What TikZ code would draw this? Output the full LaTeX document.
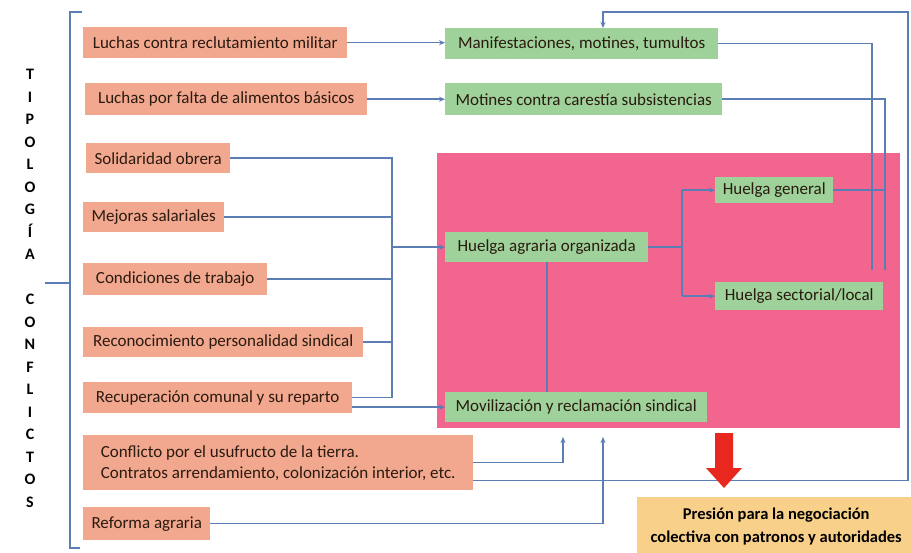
\documentclass[tikz,border=0pt]{standalone}
\usepackage{fontspec}
\setmainfont{Carlito}
\usetikzlibrary{arrows.meta,calc}
\definecolor{salmon}{HTML}{F2A88E}
\definecolor{greenb}{HTML}{9ED29A}
\definecolor{pinkb}{HTML}{F2658F}
\definecolor{orangeb}{HTML}{F9D08A}
\definecolor{lnc}{HTML}{5A7DB4}
\definecolor{redc}{HTML}{E8271F}
\definecolor{txt}{HTML}{2A1A10}
\tikzset{
  sbox/.style={fill=salmon, anchor=north west, inner sep=0pt, text=txt, font=\fontsize{17}{21}\selectfont},
  gbox/.style={fill=greenb, anchor=north west, inner sep=0pt, text=txt, font=\fontsize{17}{21}\selectfont},
  ln/.style={draw=lnc, line width=1.5pt},
  arr/.style={-{Stealth[length=6pt,width=5pt]}}
}
\begin{document}
\begin{tikzpicture}[x=1pt,y=-1pt]
\useasboundingbox (0,0) rectangle (911,552);
% pink area
\node[fill=pinkb, anchor=north west, inner sep=0pt, minimum width=463pt, minimum height=275pt] (pink) at (437,153) {};
% vertical label
\node[font=\fontsize{16}{22.5}\selectfont\bfseries, align=center, text=black] (tipo) at (30,288.5)
 {T\\I\\P\\O\\L\\O\\G\\Í\\A\\\mbox{}\\C\\O\\N\\F\\L\\I\\C\\T\\O\\S};
% bracket
\coordinate (bt) at (82,12);
\coordinate (bb) at (80,548);
\coordinate (bx) at (70,0);
\coordinate (bm) at (45,283);
\draw[ln] (bt) -- (bt -| bx) -- (bb -| bx) -- (bb);
\draw[ln] (bm) -- (bm -| bx);
% salmon boxes
\node[sbox, minimum width=264pt, minimum height=31pt] (s1) at (83,27) {Luchas contra reclutamiento militar};
\node[sbox, minimum width=282pt, minimum height=32pt] (s2) at (85,83) {Luchas por falta de alimentos básicos};
\node[sbox, minimum width=144pt, minimum height=30pt] (s3) at (86,143) {Solidaridad obrera};
\node[sbox, minimum width=141pt, minimum height=30pt] (s4) at (83,202) {Mejoras salariales};
\node[sbox, minimum width=184pt, minimum height=32pt] (s5) at (83,263) {Condiciones de trabajo};
\node[sbox, minimum width=280pt, minimum height=30pt] (s6) at (83,327) {Reconocimiento personalidad sindical};
\node[sbox, minimum width=269pt, minimum height=31pt] (s7) at (83,382) {Recuperación comunal y su reparto};
\node[sbox, minimum width=390pt, minimum height=55pt, align=left] (s8) at (83,435)
 {Conflicto por el usufructo de la tierra.\\Contratos arrendamiento, colonización interior, etc.};
\node[sbox, minimum width=127pt, minimum height=33pt] (s9) at (83,507) {Reforma agraria};
% green boxes
\node[gbox, minimum width=273pt, minimum height=31pt] (g1) at (445,28) {Manifestaciones, motines, tumultos};
\node[gbox, minimum width=277pt, minimum height=32pt] (g2) at (445,83) {Motines contra carestía subsistencias};
\node[gbox, minimum width=203pt, minimum height=30pt] (g3) at (445,232) {Huelga agraria organizada};
\node[gbox, minimum width=118pt, minimum height=26pt] (g4) at (715,177) {Huelga general};
\node[gbox, minimum width=168pt, minimum height=28pt] (g5) at (715,282) {Huelga sectorial/local};
\node[gbox, minimum width=262pt, minimum height=30pt] (g6) at (445,392) {Movilización y reclamación sindical};
% result box
\node[fill=orangeb, anchor=north west, inner sep=0pt, minimum width=278pt, minimum height=58pt, align=center,
      font=\fontsize{16.5}{23}\selectfont\bfseries, text=black] (res) at (637,497)
 {Presión para la negociación\\colectiva con patronos y autoridades};
% connectors
\draw[ln,arr] (s1.east) -- (s1.east -| g1.west);
\draw[ln,arr] (s2.east) -- (s2.east -| g2.west);
\coordinate (bus) at (392,245);
\draw[ln] (s3.east) -| (bus |- s7.east) -- (s7.east);
\draw[ln] (s4.east) -- (s4.east -| bus);
\draw[ln] (s5.east) -- (s5.east -| bus);
\draw[ln] (s6.east) -- (s6.east -| bus);
\draw[ln,arr] (bus |- g3.west) -- (g3.west);
\draw[ln,arr] (s7.east |- g6.west) -- (g6.west);
\coordinate (split) at (682,247);
\draw[ln] (g3.east) -- (g3.east -| split);
\draw[ln] (split |- g4.west) -- (split |- g5.west);
\draw[ln,arr] (split |- g4.west) -- (g4.west);
\draw[ln,arr] (split |- g5.west) -- (g5.west);
\coordinate (c547) at (547,0);
\draw[ln] (g3.south -| c547) -- (g6.north -| c547);
\coordinate (r1) at (872,0);
\coordinate (r2) at (885,0);
\coordinate (rend) at (0,270);
\draw[ln] (g1.east) -- (g1.east -| r1) -- (r1 |- rend);
\draw[ln] (g2.east) -- (g2.east -| r2) -- (r2 |- rend);
\draw[ln] (g4.east) -- (g4.east -| r2);
\coordinate (ox) at (908,0);
\coordinate (oy) at (0,12);
\coordinate (c603) at (603,0);
\draw[ln,arr] ([yshift=-18pt]s8.east) -| (ox |- oy) -| (g1.north -| c603);
\coordinate (t1) at (563,437);
\coordinate (t2) at (603,437);
\draw[ln,arr] (s8.east) -| (t1);
\draw[ln,arr] (s9.east) -| (t2);
% red arrow
\fill[redc] (715,433) -- (733,433) -- (733,468) -- (742,468) -- (724,488) -- (706,468) -- (715,468) -- cycle;
\end{tikzpicture}
\end{document}
